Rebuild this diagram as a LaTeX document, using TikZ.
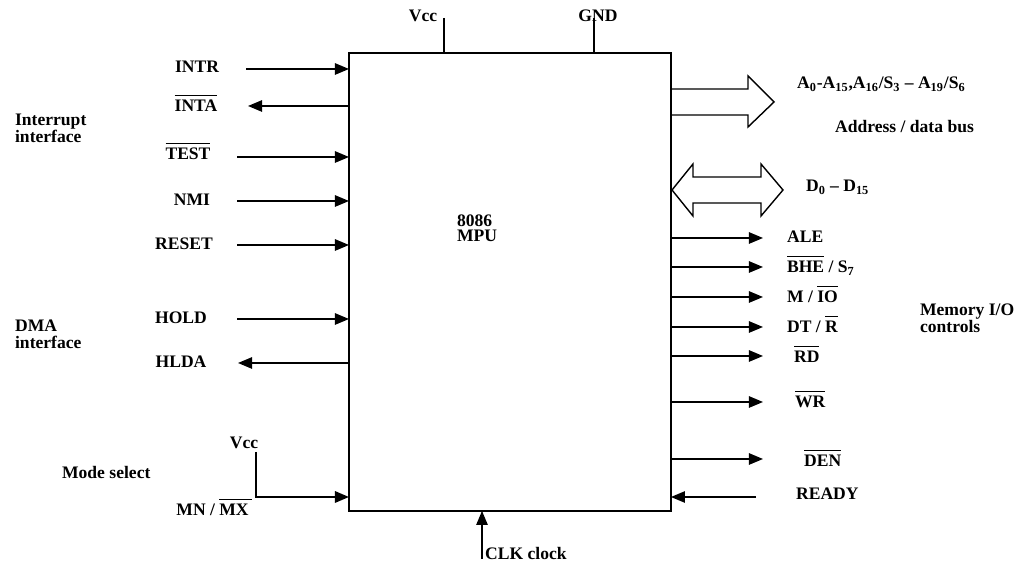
\documentclass[tikz,border=0pt]{standalone}
\usepackage{fontspec}
\setmainfont{Liberation Serif}
\usetikzlibrary{arrows.meta}
\newcommand{\barsig}[1]{$\overline{\mbox{\rule{0pt}{8pt}#1}}$}
\tikzset{
  lbl/.style={font=\bfseries\fontsize{10}{9.6}\selectfont, inner sep=1pt},
  pin/.style={line width=0.8pt},
  bus/.style={line width=0.8pt, line join=miter},
}
\begin{document}
\begin{tikzpicture}[x=0.02cm,y=-0.02cm,>={Triangle[length=8pt,width=6.5pt]}]
\useasboundingbox (0,0) rectangle (1019,563);
%Khoi MPU
\node[draw, line width=1.2pt, outer sep=0pt, minimum width=6.44cm, minimum height=9.16cm, anchor=north west] (mpu) at (349,53) {};
\node[lbl, align=left, anchor=north west, font=\bfseries\fontsize{10}{8.6}\selectfont] (name) at (455,213) {8086\\MPU};
%Nguon Vcc, GND
\node[lbl] (vcc) at (423,16) {Vcc};
\node[lbl] (gnd) at (598,16) {GND};
\coordinate (vcc-e) at (444,18);
\coordinate (gnd-e) at (594,18);
\draw[pin] (vcc-e) -- (vcc-e |- mpu.north);
\draw[pin] (gnd-e) -- (gnd-e |- mpu.north);
%Ngat
\node[lbl, align=left, anchor=west] (intg) at (13,128) {Interrupt\\interface};
\node[lbl] (intr) at (197,67) {INTR};
\coordinate (intr-e) at (246,69);
\draw[pin,->] (intr-e) -- (intr-e -| mpu.west);
\node[lbl] (inta) at (196,103) {\barsig{INTA}};
\coordinate (inta-e) at (248,106);
\draw[pin,<-] (inta-e) -- (inta-e -| mpu.west);
\node[lbl] (test) at (188,151) {\barsig{TEST}};
\coordinate (test-e) at (237,157);
\draw[pin,->] (test-e) -- (test-e -| mpu.west);
\node[lbl] (nmi) at (192,200) {NMI};
\coordinate (nmi-e) at (237,201);
\draw[pin,->] (nmi-e) -- (nmi-e -| mpu.west);
\node[lbl] (reset) at (184,244) {RESET};
\coordinate (reset-e) at (237,245);
\draw[pin,->] (reset-e) -- (reset-e -| mpu.west);
%DMA
\node[lbl, align=left, anchor=west] (dmag) at (13,334) {DMA\\interface};
\node[lbl] (hold) at (181,318) {HOLD};
\coordinate (hold-e) at (237,319);
\draw[pin,->] (hold-e) -- (hold-e -| mpu.west);
\node[lbl] (hlda) at (181,362) {HLDA};
\coordinate (hlda-e) at (238,363);
\draw[pin,<-] (hlda-e) -- (hlda-e -| mpu.west);
%Chon che do
\node[lbl, anchor=west] (modeg) at (60,472) {Mode select};
\node[lbl] (vccm) at (244,443) {Vcc};
\node[lbl] (mnmx) at (214,507) {MN / \barsig{MX\,}};
\coordinate (mode-s) at (256,452);
\coordinate (mode-k) at (256,497);
\draw[pin, line width=1.1pt, ->] (mode-s) -- (mode-k) -- (mode-k -| mpu.west);
%Bus dia chi
\draw[bus] (mpu.east |- 0,89) -- (748,89) -- (748,76) -- (774,102) -- (748,127) -- (748,115) -- (mpu.east |- 0,115);
\node[lbl, anchor=west] (addr) at (795,84) {A\textsubscript{0}-A\textsubscript{15},A\textsubscript{16}/S\textsubscript{3} – A\textsubscript{19}/S\textsubscript{6}};
\node[lbl, anchor=west] (addrg) at (833,127) {Address / data bus};
%Bus du lieu
\draw[bus] (672,190) -- (693,164) -- (693,177) -- (761,177) -- (761,164) -- (783,190) -- (761,216) -- (761,203) -- (693,203) -- (693,216) -- cycle;
\node[lbl, anchor=west] (data) at (804,187) {D\textsubscript{0} – D\textsubscript{15}};
%Dieu khien bo nho I/O
\node[lbl, align=left, anchor=west] (memg) at (918,318) {Memory I/O\\controls};
\node[lbl, anchor=west] (ale) at (785,237) {ALE};
\coordinate (ale-e) at (763,238);
\draw[pin,->] (ale-e -| mpu.east) -- (ale-e);
\node[lbl, anchor=west] (bhe) at (785,265) {\barsig{BHE} / S\textsubscript{7}};
\coordinate (bhe-e) at (763,267);
\draw[pin,->] (bhe-e -| mpu.east) -- (bhe-e);
\node[lbl, anchor=west] (mio) at (785,294) {M / \barsig{IO}};
\coordinate (mio-e) at (763,297);
\draw[pin,->] (mio-e -| mpu.east) -- (mio-e);
\node[lbl, anchor=west] (dtr) at (785,324) {DT / \barsig{R}};
\coordinate (dtr-e) at (763,327);
\draw[pin,->] (dtr-e -| mpu.east) -- (dtr-e);
\node[lbl, anchor=west] (rd) at (792,354) {\barsig{RD}};
\coordinate (rd-e) at (763,356);
\draw[pin,->] (rd-e -| mpu.east) -- (rd-e);
\node[lbl, anchor=west] (wr) at (793,399) {\barsig{WR}};
\coordinate (wr-e) at (763,402);
\draw[pin,->] (wr-e -| mpu.east) -- (wr-e);
\node[lbl, anchor=west] (den) at (802,458) {\barsig{DEN}};
\coordinate (den-e) at (763,459);
\draw[pin,->] (den-e -| mpu.east) -- (den-e);
\node[lbl, anchor=west] (ready) at (794,494) {READY};
\coordinate (ready-e) at (756,497);
\draw[pin,->] (ready-e) -- (ready-e -| mpu.east);
%Xung nhip
\node[lbl, anchor=west] (clk) at (483,553) {CLK clock};
\coordinate (clk-e) at (482,559);
\draw[pin,->] (clk-e) -- (clk-e |- mpu.south);
\end{tikzpicture}
\end{document}
